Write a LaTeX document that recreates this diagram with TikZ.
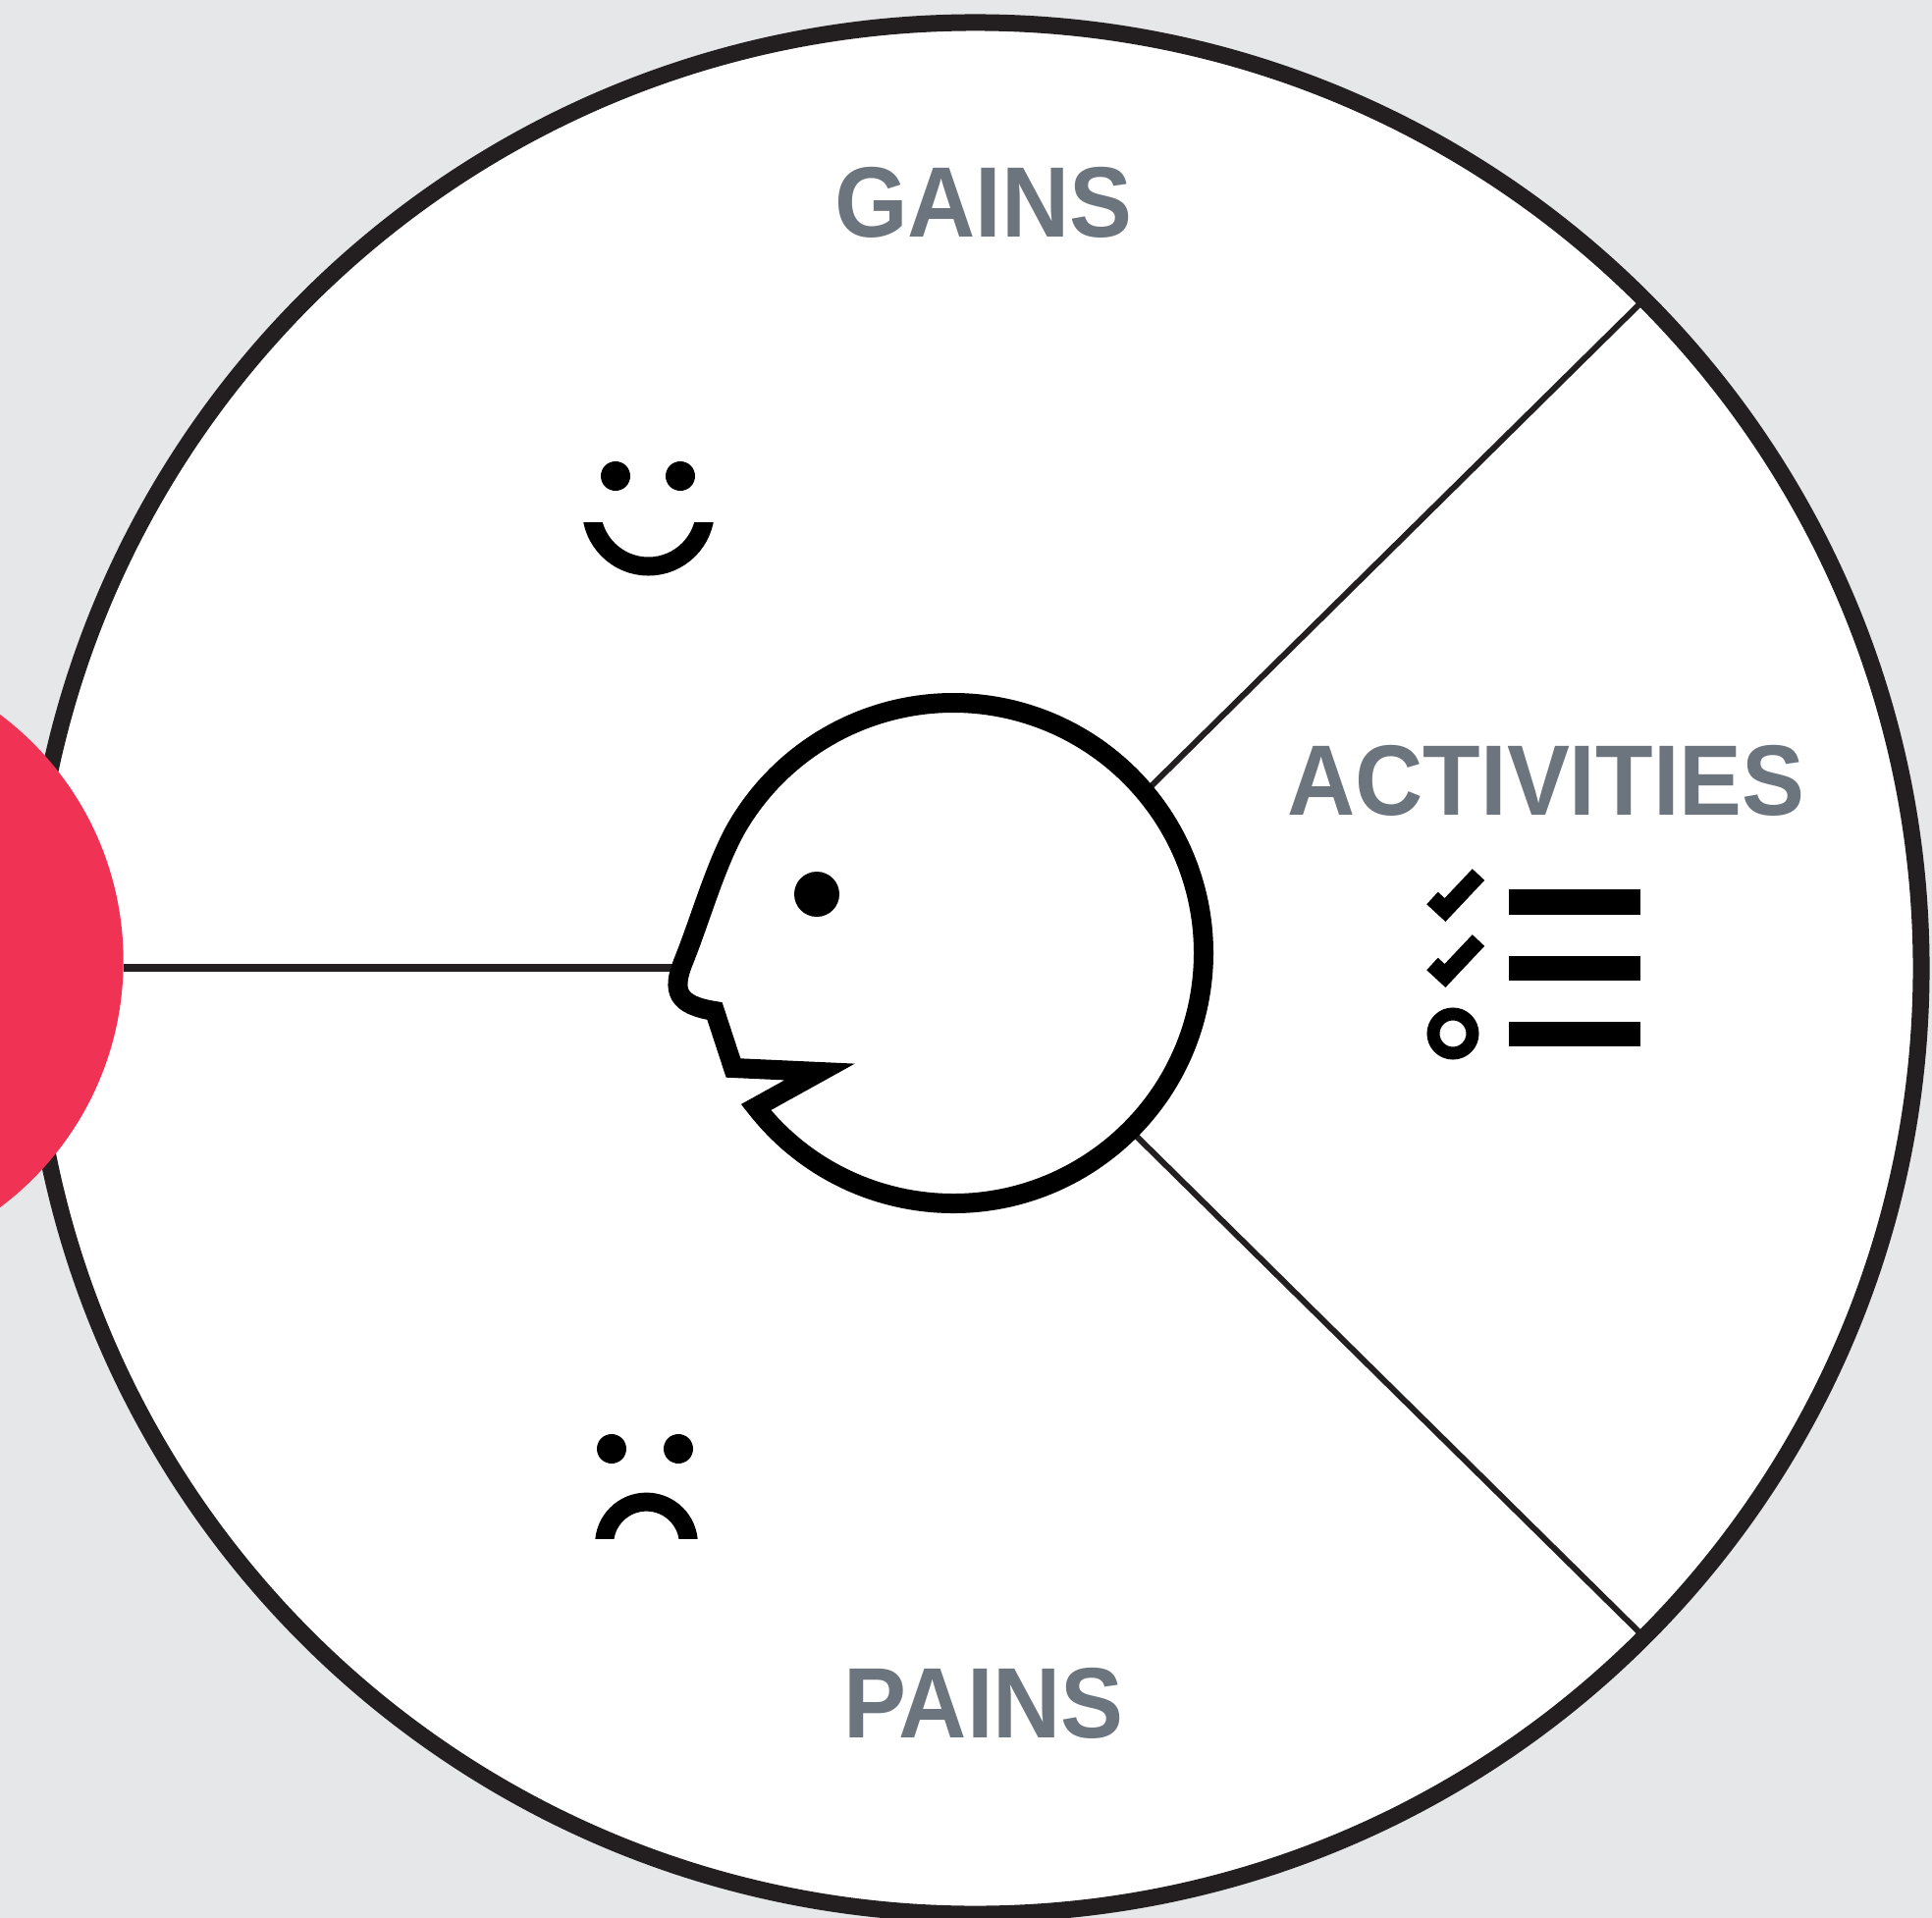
\documentclass[tikz,border=0pt]{standalone}
\usepackage{fontspec}
\setmainfont[FakeStretch=0.94]{Liberation Sans}
\usetikzlibrary{calc}
\definecolor{wheelgrey}{HTML}{E6E7E8}
\definecolor{wheelink}{HTML}{231F20}
\definecolor{wheelred}{HTML}{F03355}
\definecolor{labelgrey}{HTML}{6C757D}

\tikzset{
  wheelnode/.style={circle, inner sep=0pt, outer sep=0pt},
  sectorlabel/.style={font=\fontsize{29}{29}\selectfont\bfseries, text=labelgrey, anchor=base, inner sep=0pt},
  spoke/.style={draw=wheelink, line width=0.06cm},
  faceline/.style={draw=black, line width=0.19cm},
  checkline/.style={draw=black, line width=0.17cm},
  barmark/.style={fill=black},
}

\begin{document}
\begin{tikzpicture}[x=0.01cm,y=-0.01cm]
\useasboundingbox (0,0) rectangle (1968,1954);
\fill[wheelgrey] (0,0) rectangle (1968,1954);

\node[wheelnode, draw=wheelink, fill=white, line width=0.17cm, minimum size=19.26cm]
  (wheel) at (993.5,986.5) {};
\node[wheelnode, minimum size=5.1cm] (hub) at (971,971) {};
\node[wheelnode, fill=wheelred, minimum size=6.27cm] (target) at (-188,979) {};
\coordinate (nose) at (696,986);

\draw[spoke] (hub.40) -- (wheel.45);
\draw[spoke] (hub.-45) -- (wheel.-45);
\draw[draw=wheelink, line width=0.08cm] (nose -| target.east) -- (nose);

% head
\draw[draw=black, line width=0.2cm, line join=miter]
  ($(hub)+(142:255)$) arc[start angle=142, end angle=-150, radius=255]
  .. controls (728.5,882) and (713,938) .. (696,980)
  .. controls (684,1010) and (690,1024) .. (728,1030)
  -- (747,1088) -- (835,1092) -- cycle;
\fill[black] (832,911) circle[radius=23];

% smile
\fill[black] (627,485) circle[radius=15];
\fill[black] (693,485) circle[radius=15];
\begin{scope}
  \clip (570,532) rectangle (750,600);
  \draw[faceline] (602.5,519) arc[start angle=180, end angle=0, radius=58];
\end{scope}

% frown
\fill[black] (623,1476) circle[radius=15];
\fill[black] (691,1476) circle[radius=15];
\begin{scope}
  \clip (590,1510) rectangle (730,1567);
  \draw[faceline] (615.6,1573) arc[start angle=180, end angle=360, radius=42.9];
\end{scope}

% checklist
\draw[checkline] (1459,915) -- (1472,927) -- (1506,891);
\draw[checkline] (1459,982) -- (1472,994) -- (1506,958);
\draw[black, line width=0.13cm] (1480,1053) circle[radius=20];
\fill[barmark] (1537,906) rectangle (1671,932);
\fill[barmark] (1537,974) rectangle (1671,999);
\fill[barmark] (1537,1041) rectangle (1671,1066);

\node[sectorlabel] (gains) at (1002,241) {GAINS};
\node[sectorlabel] (activities) at (1575,830) {ACTIVITIES};
\node[sectorlabel] (pains) at (1002,1770) {PAINS};
\end{tikzpicture}
\end{document}
